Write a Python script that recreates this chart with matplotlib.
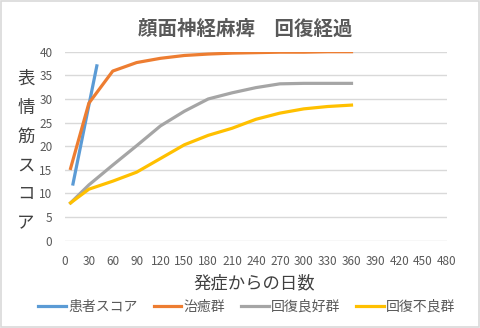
import matplotlib
matplotlib.use("Agg")
import matplotlib.pyplot as plt
from matplotlib.patches import Rectangle

plt.rcParams['font.family'] = ['Noto Sans CJK JP', 'DejaVu Sans']

# data
days_patient = [10, 40]
score_patient = [12, 37]

days = [7, 30, 60, 90, 120, 150, 180, 210, 240, 270, 300, 330, 360]
cured = [15.3, 29.1, 35.9, 37.7, 38.6, 39.2, 39.5, 39.7, 39.8, 39.9, 39.9, 40, 40]
good = [8, 11.8, 16, 20.1, 24.3, 27.4, 30, 31.3, 32.4, 33.2, 33.3, 33.3, 33.3]
poor = [8, 10.9, 12.6, 14.5, 17.4, 20.3, 22.3, 23.8, 25.7, 27.0, 27.9, 28.4, 28.7]

series_names = ['患者スコア', '治癒群', '回復良好群', '回復不良群']
colors = ['#5B9BD5', '#ED7D31', '#A5A5A5', '#FFC000']

xticks = list(range(0, 481, 30))
yticks = list(range(0, 41, 5))

fig = plt.figure(figsize=(4.8, 3.28), dpi=100)
ax = fig.add_axes([65/480, 1 - 240.7/328, (447-65)/480, (240.7-51.7)/328])

ax.plot(days_patient, score_patient, color=colors[0], lw=2.3, label=series_names[0])
ax.plot(days, cured, color=colors[1], lw=2.3, label=series_names[1])
ax.plot(days, good, color=colors[2], lw=2.3, label=series_names[2])
ax.plot(days, poor, color=colors[3], lw=2.3, label=series_names[3])

ax.set_xlim(0, 480)
ax.set_ylim(0, 40)
ax.set_xticks(xticks)
ax.set_yticks(yticks)
ax.tick_params(axis='both', length=0, labelsize=8.5, colors='#595959')
ax.tick_params(axis='x', pad=10)
ax.tick_params(axis='y', pad=9)
ax.grid(axis='y', color='#d9d9d9', lw=1)
ax.set_axisbelow(True)
for s in ax.spines.values():
    s.set_visible(False)

fig.text(245/480, 1 - 29/328, '顔面神経麻痺　回復経過', ha='center', va='center',
         fontsize=14, fontweight='bold', color='#595959')
fig.text(254/480, 1 - 283/328, '発症からの日数', ha='center', va='center',
         fontsize=12.5, color='#404040')
fig.text(26/480, 1 - 151/328, '\n'.join('表情筋スコア'), ha='center', va='center',
         fontsize=12.5, color='#404040', linespacing=1.78)

fig.legend(loc='center', bbox_to_anchor=(247/480, 1 - 307/328), ncol=4, frameon=False,
           fontsize=10, labelcolor='#595959', handlelength=2.0, handletextpad=0.15,
           columnspacing=1.15)

fig.patches.append(Rectangle((0.003, 0.004), 0.994, 0.992, transform=fig.transFigure,
                             fill=False, edgecolor='#d9d9d9', lw=1.2))

fig.savefig('out.png', dpi=100)
